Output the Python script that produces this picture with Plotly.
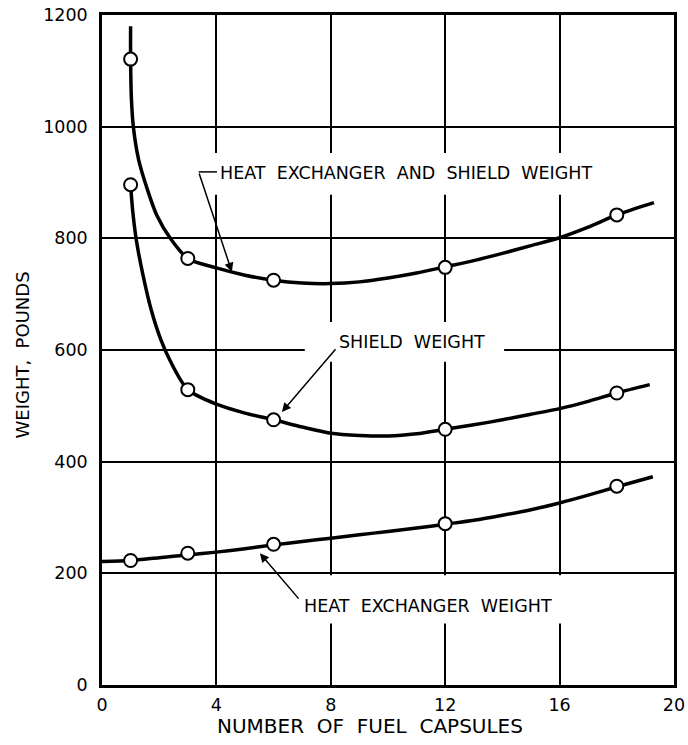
import plotly.graph_objects as go

# Measured points (circles)
capsules = [1, 3, 6, 12, 18]
total_pts = [1121, 764, 725, 748, 842]
shield_pts = [896, 529, 475, 458, 523]
hx_pts = [223, 236, 252, 289, 356]

# Faired curves through the measurements
total_curve_x = [1.0, 1.0, 1.03, 1.1, 1.28, 1.59, 1.91, 2.43, 3, 4, 5, 6, 7, 8, 9, 10, 11, 12, 13, 14, 15, 16, 17, 18, 19.3]
total_curve_y = [1180, 1121, 1048, 998, 941, 887, 842, 797, 764, 747, 734, 725, 720, 719, 722, 729, 738, 749, 760, 773, 787, 801, 820, 842, 864]

shield_curve_x = [1, 1.07, 1.2, 1.43, 1.72, 2.06, 2.37, 3, 4, 5, 6, 7, 8, 9, 10, 11, 12, 13, 14, 15, 16, 17, 18, 19.15]
shield_curve_y = [896, 851, 797, 735, 672, 618, 582, 529, 503, 487, 475, 462, 451, 447, 446, 450, 458, 466, 475, 485, 495, 508, 523, 538]

hx_curve_x = [0, 1, 2, 3, 4, 5, 6, 7, 8, 9, 10, 11, 12, 13, 14, 15, 16, 17, 18, 19.26]
hx_curve_y = [221, 223, 228, 233, 238, 244, 251, 257, 263, 269, 275, 281, 288, 295, 304, 314, 326, 340, 355, 373]

x_ticks = [0, 4, 8, 12, 16, 20]
y_ticks = [0, 200, 400, 600, 800, 1000, 1200]

FONT = "DejaVu Sans"
NB = "\u00a0"

fig = go.Figure()

for cx, cy in [(total_curve_x, total_curve_y),
               (shield_curve_x, shield_curve_y),
               (hx_curve_x, hx_curve_y)]:
    fig.add_trace(go.Scatter(x=cx, y=cy, mode="lines",
                             line=dict(color="black", width=3.5, shape="spline", smoothing=0.8),
                             hoverinfo="skip", showlegend=False))

for py in [total_pts, shield_pts, hx_pts]:
    fig.add_trace(go.Scatter(x=capsules, y=py, mode="markers",
                             marker=dict(symbol="circle", size=13, color="white",
                                         line=dict(color="black", width=2)),
                             showlegend=False))

# white breaks in the grid behind the curve labels
for x0, x1, y0, y1 in [(3.9, 16.3, 878, 953), (7.09, 14.06, 579, 650), (6.64, 16.44, 110, 196.5)]:
    fig.add_shape(type="rect", x0=x0, x1=x1, y0=y0, y1=y1, layer="between",
                  line=dict(width=0), fillcolor="white")

# leader stub for the top label
fig.add_shape(type="line", x0=3.38, x1=4.02, y0=919, y1=919, layer="above",
              line=dict(color="black", width=1.5))

label_font = dict(family=FONT, size=17.5, color="black")
labels = [
    (4.05, 917, f"HEAT{NB}{NB}EXCHANGER{NB}{NB}AND{NB}{NB}SHIELD{NB}{NB}WEIGHT"),
    (8.21, 615, f"SHIELD{NB}{NB}WEIGHT"),
    (6.99, 141, f"HEAT{NB}{NB}EXCHANGER{NB}{NB}WEIGHT"),
]
for lx, ly, txt in labels:
    fig.add_annotation(x=lx, y=ly, text=txt, showarrow=False, xanchor="left",
                       yanchor="middle", font=label_font)

# arrows: (tip x, tip y, tail x, tail y)
arrows = [(4.54, 740, 3.38, 919), (6.29, 489, 8.21, 604), (5.52, 236, 6.92, 152)]
for tx, ty, ax, ay in arrows:
    fig.add_annotation(x=tx, y=ty, ax=ax, ay=ay, axref="x", ayref="y", text="",
                       showarrow=True, arrowhead=2, arrowsize=1.2, arrowwidth=1.5,
                       arrowcolor="black")

L, R, T, B = 102, 14, 15, 60
W, H = 688, 745
pw, ph = W - L - R, H - T - B


def paper_x(px):
    return (px - L) / pw


def paper_y(py):
    return (H - B - py) / ph


fig.add_annotation(x=paper_x(370), y=paper_y(726), xref="paper", yref="paper",
                   text=f"NUMBER{NB}{NB}OF{NB}{NB}FUEL{NB}{NB}CAPSULES", showarrow=False,
                   xanchor="center", yanchor="middle",
                   font=dict(family=FONT, size=20, color="black"))
fig.add_annotation(x=paper_x(21.5), y=paper_y(355), xref="paper", yref="paper",
                   text=f"WEIGHT,{NB}{NB}POUNDS", textangle=-90, showarrow=False,
                   xanchor="center", yanchor="middle",
                   font=dict(family=FONT, size=18, color="black"))

axis_common = dict(showgrid=True, gridcolor="black", gridwidth=1.5,
                   showline=True, linecolor="black", linewidth=2.5, mirror=True,
                   zeroline=False, ticks="", automargin=False, ticklabeloverflow="allow",
                   tickfont=dict(family=FONT, size=17.5, color="black"))

fig.update_xaxes(range=[0, 20], tickvals=x_ticks, ticktext=[str(v) for v in x_ticks],
                 ticklabelstandoff=2, **axis_common)
fig.update_yaxes(range=[0, 1200], tickvals=y_ticks, ticktext=[str(v) for v in y_ticks],
                 ticklabelstandoff=8, **axis_common)

fig.update_layout(width=W, height=H, margin=dict(l=L, r=R, t=T, b=B, autoexpand=False),
                  plot_bgcolor="white", paper_bgcolor="white", showlegend=False)

fig.write_html("out.html")
